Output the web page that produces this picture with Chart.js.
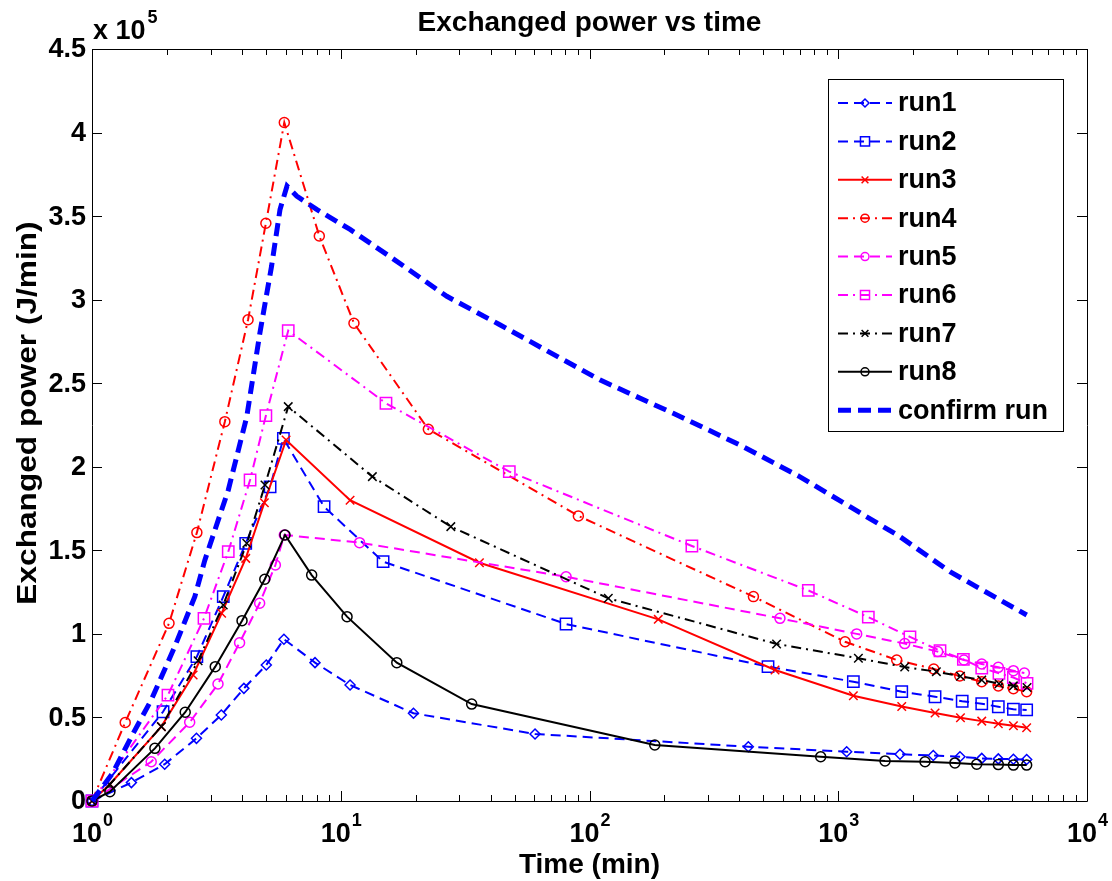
<!DOCTYPE html>
<html>
<head>
<meta charset="utf-8">
<script src="https://cdn.jsdelivr.net/npm/chart.js"></script>
<style>
  html, body { margin: 0; padding: 0; background: #fff; }
</style>
</head>
<body>
<canvas id="powerChart" width="1112" height="881"></canvas>
<script>
// time (min) and exchanged power (x 10^5 J/min)
const run1Time  = [1, 1.44, 1.96, 2.63, 3.31, 4.08, 5.02, 5.91, 7.88, 10.9, 19.6, 60.4, 435, 1081, 1771, 2410, 3085, 3775, 4400, 5060, 5720];
const run1Power = [0, 0.11, 0.22, 0.375, 0.515, 0.674, 0.814, 0.968, 0.828, 0.694, 0.525, 0.401, 0.325, 0.295, 0.28, 0.272, 0.265, 0.255, 0.252, 0.25, 0.248];

const run2Time  = [1, 1.93, 2.64, 3.37, 4.15, 5.2, 5.88, 8.57, 14.8, 80.5, 522, 1150, 1800, 2450, 3150, 3775, 4400, 5060, 5720];
const run2Power = [0, 0.534, 0.864, 1.223, 1.542, 1.88, 2.17, 1.761, 1.432, 1.059, 0.804, 0.714, 0.654, 0.624, 0.597, 0.582, 0.564, 0.549, 0.545];

const run3Time  = [1, 1.18, 1.9, 2.55, 3.32, 4.15, 4.93, 6.03, 10.9, 36.1, 189, 557, 1150, 1800, 2450, 3100, 3775, 4400, 5060, 5720];
const run3Power = [0, 0.10, 0.445, 0.754, 1.123, 1.452, 1.785, 2.16, 1.80, 1.426, 1.087, 0.784, 0.63, 0.566, 0.527, 0.498, 0.478, 0.462, 0.45, 0.438];

const run4Time  = [1, 1.36, 2.04, 2.64, 3.42, 4.24, 5.0, 5.93, 8.2, 11.3, 22.5, 90.2, 456, 1065, 1718, 2420, 3080, 3775, 4400, 5060, 5720];
const run4Power = [0, 0.47, 1.063, 1.606, 2.27, 2.88, 3.457, 4.06, 3.381, 2.859, 2.224, 1.706, 1.223, 0.953, 0.844, 0.79, 0.748, 0.714, 0.688, 0.672, 0.654];

const run5Time  = [1, 1.73, 2.47, 3.21, 3.92, 4.72, 5.46, 5.93, 11.9, 80.5, 583, 1186, 1850, 2510, 3200, 3775, 4400, 5060, 5600];
const run5Power = [0, 0.235, 0.471, 0.70, 0.947, 1.183, 1.412, 1.592, 1.546, 1.342, 1.093, 1.0, 0.942, 0.894, 0.844, 0.82, 0.80, 0.78, 0.766];

const run6Time  = [1, 2.02, 2.82, 3.53, 4.32, 5.0, 6.15, 15.2, 47.6, 258, 758, 1321, 1942, 2565, 3184, 3775, 4427, 5058, 5740];
const run6Power = [0, 0.634, 1.093, 1.492, 1.921, 2.306, 2.815, 2.38, 1.971, 1.526, 1.26, 1.10, 0.982, 0.899, 0.847, 0.796, 0.764, 0.739, 0.704];

const run7Time  = [1, 1.18, 1.9, 2.67, 3.37, 4.19, 4.96, 6.15, 13.4, 27.7, 119, 565, 1205, 1850, 2480, 3100, 3775, 4427, 5060, 5740];
const run7Power = [0, 0.10, 0.445, 0.839, 1.173, 1.542, 1.891, 2.36, 1.941, 1.642, 1.213, 0.94, 0.854, 0.802, 0.774, 0.746, 0.724, 0.702, 0.689, 0.679];

const run8Time  = [1, 1.18, 1.79, 2.37, 3.13, 4.01, 4.95, 5.97, 7.64, 10.6, 16.8, 33.6, 183, 850, 1542, 2233, 2945, 3603, 4400, 5060, 5720];
const run8Power = [0, 0.056, 0.315, 0.531, 0.804, 1.079, 1.327, 1.592, 1.352, 1.103, 0.828, 0.58, 0.335, 0.265, 0.24, 0.235, 0.228, 0.22, 0.218, 0.215, 0.215];

const confirmTime  = [1, 1.21, 1.44, 1.73, 2.15, 2.59, 2.84, 3.53, 4.19, 4.73, 5.27, 5.70, 6.08, 6.65, 8.0, 10.9, 15.8, 26.7, 43.6, 110, 217, 403, 702, 1114, 1770, 2812, 4470, 5723];
const confirmPower = [0, 0.166, 0.385, 0.604, 0.923, 1.223, 1.44, 1.86, 2.30, 2.80, 3.20, 3.54, 3.68, 3.62, 3.54, 3.42, 3.257, 3.02, 2.85, 2.52, 2.32, 2.13, 1.94, 1.761, 1.582, 1.372, 1.203, 1.113];

const seriesNames = ['run1', 'run2', 'run3', 'run4', 'run5', 'run6', 'run7', 'run8', 'confirm run'];

// axis ticks
const xDecades   = [1, 10, 100, 1000, 10000];
const xExponents = ['0', '1', '2', '3', '4'];
const yTicks      = [0, 0.5, 1, 1.5, 2, 2.5, 3, 3.5, 4, 4.5];
const yTickLabels = ['0', '0.5', '1', '1.5', '2', '2.5', '3', '3.5', '4', '4.5'];

const FONT = '"Liberation Sans", Arial, Helvetica, sans-serif';
const DASH = [10, 6];
const DASHDOT = [10, 5, 2, 5];

function pts(t, p) {
  return t.map((v, i) => ({ x: v, y: p[i] }));
}

function series(i, t, p, color, dash, marker, radius) {
  return {
    label: seriesNames[i],
    data: pts(t, p),
    borderColor: color,
    borderWidth: 2,
    borderDash: dash,
    pointStyle: marker,
    pointRadius: radius,
    pointBorderColor: color,
    pointBackgroundColor: 'rgba(0,0,0,0)',
    pointBorderWidth: 1.5,
    tension: 0,
    clip: false,
    order: 10 - i
  };
}

const datasets = [
  series(0, run1Time, run1Power, '#0000ff', DASH, 'rectRot', 5),
  series(1, run2Time, run2Power, '#0000ff', DASH, 'rect', 8),
  series(2, run3Time, run3Power, '#ff0000', [], 'crossRot', 6),
  series(3, run4Time, run4Power, '#ff0000', DASHDOT, 'circle', 5),
  series(4, run5Time, run5Power, '#ff00ff', DASH, 'circle', 5),
  series(5, run6Time, run6Power, '#ff00ff', DASHDOT, 'rect', 8),
  series(6, run7Time, run7Power, '#000000', DASHDOT, 'crossRot', 6),
  series(7, run8Time, run8Power, '#000000', [], 'circle', 5),
  Object.assign(series(8, confirmTime, confirmPower, '#0000ff', [13, 7], 'circle', 0), { borderWidth: 5 })
];

function crisp(v) { return Math.round(v) + 0.5; }

// MATLAB-like frame: box, inward ticks on all sides, labels, title, legend
const matlabAxes = {
  id: 'matlabAxes',
  beforeDatasetsDraw(chart) {
    const { ctx, chartArea: a, scales: { x, y } } = chart;
    ctx.save();
    ctx.strokeStyle = '#000';
    ctx.lineWidth = 1;
    ctx.setLineDash([]);
    ctx.beginPath();
    ctx.rect(crisp(a.left), crisp(a.top), Math.round(a.right - a.left), Math.round(a.bottom - a.top));
    yTicks.forEach(v => {
      const py = crisp(y.getPixelForValue(v));
      ctx.moveTo(a.left, py); ctx.lineTo(a.left + 10, py);
      ctx.moveTo(a.right, py); ctx.lineTo(a.right - 10, py);
    });
    xDecades.forEach((d, i) => {
      const px = crisp(x.getPixelForValue(d));
      ctx.moveTo(px, a.bottom); ctx.lineTo(px, a.bottom - 10);
      ctx.moveTo(px, a.top); ctx.lineTo(px, a.top + 10);
      if (i < xDecades.length - 1) {
        for (let m = 2; m <= 9; m++) {
          const pm = crisp(x.getPixelForValue(d * m));
          ctx.moveTo(pm, a.bottom); ctx.lineTo(pm, a.bottom - 6);
          ctx.moveTo(pm, a.top); ctx.lineTo(pm, a.top + 6);
        }
      }
    });
    ctx.stroke();
    ctx.restore();
  },
  afterDatasetsDraw(chart) {
    const { ctx, chartArea: a, scales: { x, y } } = chart;
    const cx = (a.left + a.right) / 2;
    ctx.save();
    ctx.fillStyle = '#000';
    ctx.setLineDash([]);

    // title
    ctx.font = 'bold 28px ' + FONT;
    ctx.textAlign = 'center';
    ctx.textBaseline = 'alphabetic';
    ctx.fillText('Exchanged power vs time', cx, 31);

    // exponent multiplier
    ctx.textAlign = 'left';
    ctx.font = 'bold 27px ' + FONT;
    ctx.fillText('x 10', a.left + 1, 39);
    const w10 = ctx.measureText('x 10').width;
    ctx.font = 'bold 18px ' + FONT;
    ctx.fillText('5', a.left + 3 + w10, 23);

    // y tick labels
    ctx.font = 'bold 27px ' + FONT;
    ctx.textAlign = 'right';
    ctx.textBaseline = 'middle';
    yTicks.forEach((v, i) => ctx.fillText(yTickLabels[i], a.left - 6, y.getPixelForValue(v) + 1));

    // x tick labels 10^n
    ctx.textBaseline = 'alphabetic';
    ctx.textAlign = 'left';
    xDecades.forEach((d, i) => {
      const px = x.getPixelForValue(d);
      ctx.font = 'bold 27px ' + FONT;
      const wb = ctx.measureText('10').width;
      ctx.font = 'bold 18px ' + FONT;
      const we = ctx.measureText(xExponents[i]).width;
      const start = px - (wb + we) / 2;
      ctx.font = 'bold 27px ' + FONT;
      ctx.fillText('10', start, 842);
      ctx.font = 'bold 18px ' + FONT;
      ctx.fillText(xExponents[i], start + wb + 1, 826);
    });

    // axis titles
    ctx.font = 'bold 28px ' + FONT;
    ctx.textAlign = 'center';
    ctx.fillText('Time (min)', cx, 873);
    ctx.save();
    ctx.translate(28, (a.top + a.bottom) / 2 - 12);
    ctx.rotate(-Math.PI / 2);
    ctx.scale(1.13, 1);
    ctx.textBaseline = 'middle';
    ctx.fillText('Exchanged power (J/min)', 0, 0);
    ctx.restore();

    // legend
    const box = { left: a.right - 259, top: a.top + 30, right: a.right - 24, bottom: a.top + 382 };
    ctx.fillStyle = '#fff';
    ctx.fillRect(box.left, box.top, box.right - box.left, box.bottom - box.top);
    ctx.strokeStyle = '#000';
    ctx.lineWidth = 1;
    ctx.strokeRect(crisp(box.left), crisp(box.top), Math.round(box.right - box.left), Math.round(box.bottom - box.top));
    ctx.font = 'bold 27px ' + FONT;
    ctx.textAlign = 'left';
    ctx.textBaseline = 'middle';
    chart.data.datasets.forEach((ds, i) => {
      const ry = box.top + 24 + i * 38.4;
      const x0 = box.left + 10, x1 = box.left + 64, xm = (x0 + x1) / 2;
      ctx.strokeStyle = ds.borderColor;
      ctx.lineWidth = ds.borderWidth;
      ctx.setLineDash(ds.borderDash);
      ctx.beginPath();
      ctx.moveTo(x0, ry); ctx.lineTo(x1, ry);
      ctx.stroke();
      ctx.setLineDash([]);
      if (ds.pointRadius > 0) {
        ctx.lineWidth = ds.pointBorderWidth;
        ctx.fillStyle = 'rgba(0,0,0,0)';
        Chart.helpers.drawPoint(ctx, { pointStyle: ds.pointStyle, radius: ds.pointRadius * 0.8, rotation: 0, borderWidth: ds.pointBorderWidth }, xm, ry);
      }
      ctx.fillStyle = '#000';
      ctx.fillText(ds.label, box.left + 70, ry + 1);
    });
    ctx.restore();
  }
};

new Chart(document.getElementById('powerChart').getContext('2d'), {
  type: 'line',
  data: { datasets: datasets },
  options: {
    responsive: false,
    animation: false,
    layout: { padding: { left: 92, right: 25, top: 49, bottom: 80 } },
    plugins: { legend: { display: false }, tooltip: { enabled: false }, title: { display: false } },
    scales: {
      x: { type: 'logarithmic', min: 1, max: 10000, display: false },
      y: { type: 'linear', min: 0, max: 4.5, display: false }
    }
  },
  plugins: [matlabAxes]
});
</script>
</body>
</html>
